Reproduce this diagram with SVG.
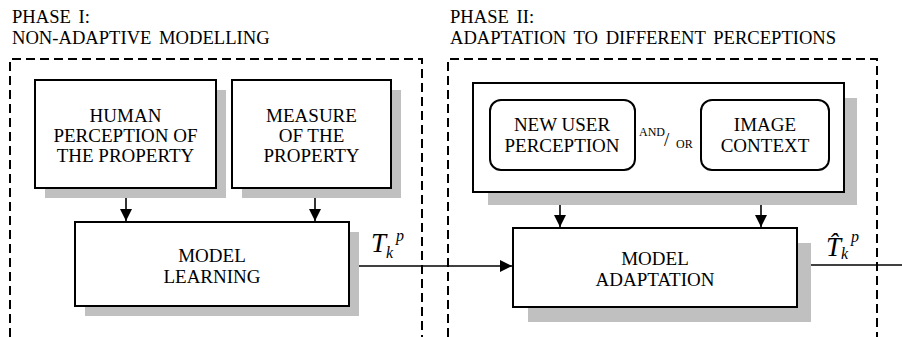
<svg xmlns="http://www.w3.org/2000/svg" width="902" height="337" viewBox="0 0 902 337">
  <defs>
    <marker id="arrow" viewBox="0 0 12 12" refX="12" refY="6" markerWidth="12" markerHeight="12" markerUnits="userSpaceOnUse" orient="auto">
      <path d="M0,0 L12,6 L0,12 Z" fill="#000"/>
    </marker>
    <style>
      .lbl { font-size: 19px; fill: #000; }
      .title { font-size: 18.6px; fill: #000; word-spacing: 3px; }
      .mid { text-anchor: middle; }
      .small { font-size: 12px; fill: #000; }
      .math { font-style: italic; fill: #000; }
      .box { fill: #fff; stroke: #000; stroke-width: 2; }
      .shadow { fill: #c0c0c0; stroke: none; }
      .phase { fill: none; stroke: #000; stroke-width: 2; stroke-dasharray: 9 5; }
      .wire { fill: none; stroke: #000; stroke-width: 1.6; }
    </style>
  </defs>
  <rect width="902" height="337" fill="#fff"/>

  <g font-family="'Liberation Serif', serif">
  <!-- Phase frames -->
  <g id="phase1">
    <text class="title" x="12" y="23">PHASE I:</text>
    <text class="title" x="12" y="44">NON-ADAPTIVE MODELLING</text>
    <path class="phase" d="M10,337 V59 H422 V337"/>
  </g>
  <g id="phase2">
    <text class="title" x="450" y="23">PHASE II:</text>
    <text class="title" x="450" y="44">ADAPTATION TO DIFFERENT PERCEPTIONS</text>
    <path class="phase" d="M448,337 V59 H877 V337"/>
  </g>

  <!-- Connectors -->
  <g id="connectors">
    <line class="wire" x1="126" y1="188" x2="126" y2="221" marker-end="url(#arrow)"/>
    <line class="wire" x1="315" y1="188" x2="315" y2="221" marker-end="url(#arrow)"/>
    <line class="wire" x1="349" y1="266" x2="512" y2="266" marker-end="url(#arrow)"/>
    <line class="wire" x1="560" y1="192" x2="560" y2="227" marker-end="url(#arrow)"/>
    <line class="wire" x1="761" y1="192" x2="761" y2="227" marker-end="url(#arrow)"/>
    <line class="wire" x1="797" y1="265" x2="902" y2="265"/>
  </g>

  <!-- Phase I nodes -->
  <g id="human-perception">
    <rect class="shadow" x="45" y="90" width="181" height="108"/>
    <rect class="box" x="35" y="80" width="181" height="108"/>
    <text class="lbl mid" x="125.5" y="122">HUMAN</text>
    <text class="lbl mid" x="125.5" y="142">PERCEPTION OF</text>
    <text class="lbl mid" x="125.5" y="162">THE PROPERTY</text>
  </g>
  <g id="measure">
    <rect class="shadow" x="242" y="90" width="159" height="108"/>
    <rect class="box" x="232" y="80" width="159" height="108"/>
    <text class="lbl mid" x="311.5" y="122">MEASURE</text>
    <text class="lbl mid" x="311.5" y="142">OF THE</text>
    <text class="lbl mid" x="311.5" y="162">PROPERTY</text>
  </g>
  <g id="model-learning">
    <rect class="shadow" x="85" y="232" width="274" height="84"/>
    <rect class="box" x="75" y="222" width="274" height="84"/>
    <text class="lbl mid" x="212" y="262">MODEL</text>
    <text class="lbl mid" x="212" y="283">LEARNING</text>
  </g>
  <g id="label-t">
    <text class="math" x="371" y="252" font-size="27">T</text>
    <text class="math" x="386" y="258" font-size="16">k</text>
    <text class="math" x="396" y="241" font-size="16">p</text>
  </g>

  <!-- Phase II nodes -->
  <g id="inputs">
    <rect class="shadow" x="488" y="98" width="369" height="107"/>
    <rect class="box" x="473" y="83" width="371" height="109"/>
  </g>
  <g id="new-user-perception">
    <rect class="box" x="490" y="100" width="145" height="70" rx="11" ry="11"/>
    <text class="lbl mid" x="562" y="131">NEW USER</text>
    <text class="lbl mid" x="562" y="152">PERCEPTION</text>
  </g>
  <g id="and-or">
    <text class="small" x="639" y="136">AND</text>
    <text class="lbl" x="664" y="146">/</text>
    <text class="small" x="676" y="148">OR</text>
  </g>
  <g id="image-context">
    <rect class="box" x="701" y="100" width="128" height="70" rx="11" ry="11"/>
    <text class="lbl mid" x="765" y="131">IMAGE</text>
    <text class="lbl mid" x="765" y="152">CONTEXT</text>
  </g>
  <g id="model-adaptation">
    <rect class="shadow" x="528" y="243" width="283" height="79"/>
    <rect class="box" x="513" y="228" width="284" height="79"/>
    <text class="lbl mid" x="655" y="265">MODEL</text>
    <text class="lbl mid" x="655" y="286">ADAPTATION</text>
  </g>
  <g id="label-t-hat">
    <text class="math" x="826" y="256" font-size="27">T̂</text>
    <text class="math" x="841" y="259" font-size="16">k</text>
    <text class="math" x="851" y="242" font-size="16">p</text>
  </g>
  </g>
</svg>
